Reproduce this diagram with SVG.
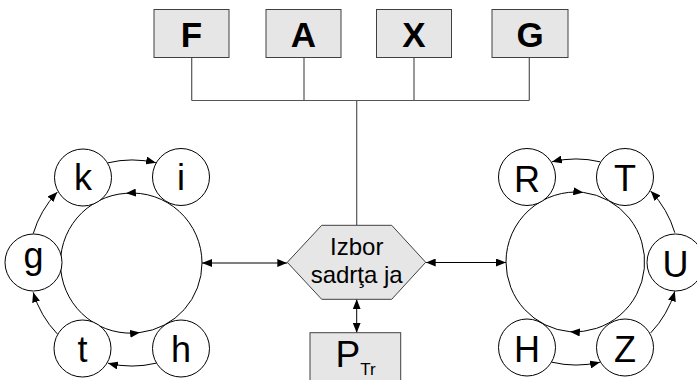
<svg xmlns="http://www.w3.org/2000/svg" width="697" height="380" viewBox="0 0 697 380">
<defs>
<marker id="ah" markerUnits="userSpaceOnUse" markerWidth="10" markerHeight="8" viewBox="0 0 10 8" refX="10" refY="4" orient="auto-start-reverse">
<path d="M0,0 L10,4 L0,8 z" fill="#000"/>
</marker>
<style>
.box{fill:#e6e6e6;stroke:#404040;stroke-width:1}
.tree{fill:none;stroke:#555;stroke-width:1.2}
.c{fill:#fff;stroke:#000;stroke-width:1}
.big{fill:none;stroke:#000;stroke-width:1}
.arc{fill:none;stroke:#000;stroke-width:1;marker-end:url(#ah)}
.dbl{fill:none;stroke:#000;stroke-width:1;marker-start:url(#ah);marker-end:url(#ah)}
.bt{font-family:"Liberation Sans",Arial,sans-serif;font-weight:bold;font-size:35px;text-anchor:middle;fill:#000}
.lt{font-family:"Liberation Sans",Arial,sans-serif;font-size:36px;text-anchor:middle;fill:#000}
.ht{font-family:"Liberation Sans",Arial,sans-serif;font-size:24px;text-anchor:middle;fill:#000}
</style>
</defs>
<g id="connectors">
<path class="tree" d="M191.7,57.5 V100.5 M304,57.5 V100.5 M414,57.5 V100.5 M529.3,57.5 V100.5 M191.7,100.5 H529.3 M356.7,100.5 V225.3"/>
<path class="dbl" d="M202,263 H287.3"/>
<path class="dbl" d="M425.7,262.5 H506"/>
<path class="dbl" d="M356.7,299.3 V332.7"/>
<path class="arc" d="M108,162.8 A103 103 0 0 1 156,162.8"/>
<path class="arc" d="M33.2,233.7 A103 103 0 0 1 57.3,192.1"/>
<path class="arc" d="M57.3,333.9 A103 103 0 0 1 33.2,292.3"/>
<path class="arc" d="M156,363.2 A103 103 0 0 1 108,363.2"/>
<path class="arc" d="M600,161.8 A103 103 0 0 0 552,161.8"/>
<path class="arc" d="M674.8,232.7 A103 103 0 0 0 650.7,191.1"/>
<path class="arc" d="M650.7,332.9 A103 103 0 0 0 674.8,291.3"/>
<path class="arc" d="M552,362.2 A103 103 0 0 0 600,362.2"/>
</g>
<g id="box-F"><rect class="box" x="154" y="9.5" width="75" height="48"/><text class="bt" x="191.5" y="46.5">F</text></g>
<g id="box-A"><rect class="box" x="266" y="9.5" width="75" height="48"/><text class="bt" x="303.5" y="46.5">A</text></g>
<g id="box-X"><rect class="box" x="376.5" y="9.5" width="75" height="48"/><text class="bt" x="414" y="46.5">X</text></g>
<g id="box-G"><rect class="box" x="492" y="9.5" width="76" height="48"/><text class="bt" x="530" y="46.5">G</text></g>
<g id="izbor">
<polygon class="box" points="287.3,262.3 321.7,225.3 391.7,225.3 425.7,262.3 391.7,299.3 321.7,299.3"/>
<text class="ht" x="356.7" y="255">Izbor</text>
<text class="ht" x="356.7" y="282.7">sadrţa ja</text>
</g>
<g id="ptr">
<rect class="box" x="310" y="332.7" width="90.7" height="60"/>
<text class="lt" x="355.5" y="366.7" style="font-size:37px">P<tspan style="font-size:17px" dy="8.3">Tr</tspan></text>
</g>
<g id="left-ring">
<path class="big" style="marker-mid:url(#ah)" d="M202,263 A70 70 0 0 0 125.9,193.3 A70 70 0 1 0 140,332.5 A70 70 0 0 0 202,263"/>
</g>
<g id="right-ring">
<path class="big" style="marker-mid:url(#ah)" d="M506,262 A70 70 0 0 1 583.3,192.4 A70 70 0 0 1 569.9,331.7 A70 70 0 0 1 506,262"/>
</g>
<g id="node-k"><circle class="c" cx="83" cy="177.5" r="28.5"/><text class="lt" x="83" y="189.5">k</text></g>
<g id="node-i"><circle class="c" cx="181" cy="177" r="28.5"/><text class="lt" x="181" y="190">i</text></g>
<g id="node-g"><circle class="c" cx="33.5" cy="262.5" r="28.5"/><text class="lt" x="33.5" y="268">g</text></g>
<g id="node-t"><circle class="c" cx="82.5" cy="348.5" r="28.5"/><text class="lt" x="82.5" y="361.5">t</text></g>
<g id="node-h"><circle class="c" cx="181" cy="348.5" r="28.5"/><text class="lt" x="181" y="361.5">h</text></g>
<g id="node-R"><circle class="c" cx="527" cy="177" r="28.5"/><text class="lt" x="527" y="191.5">R</text></g>
<g id="node-T"><circle class="c" cx="625" cy="177" r="28.5"/><text class="lt" x="625" y="191">T</text></g>
<g id="node-U"><circle class="c" cx="675.5" cy="262.5" r="28.5"/><text class="lt" x="675.5" y="276.5">U</text></g>
<g id="node-H"><circle class="c" cx="527" cy="347.5" r="28.5"/><text class="lt" x="527" y="361.5">H</text></g>
<g id="node-Z"><circle class="c" cx="625" cy="347.5" r="28.5"/><text class="lt" x="625" y="361.5">Z</text></g>
</svg>
